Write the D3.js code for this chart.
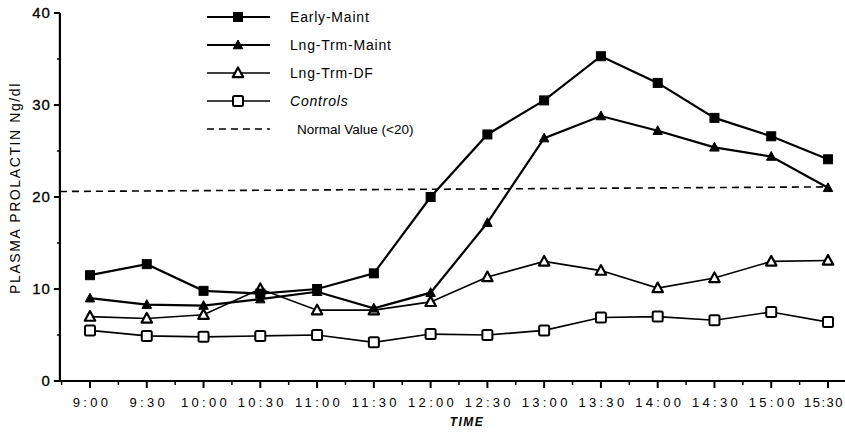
<!DOCTYPE html>
<html>
<head>
<meta charset="utf-8">
<script src="https://cdn.jsdelivr.net/npm/d3@7"></script>
<style>
  body { margin: 0; background: #fff; }
  svg { display: block; font-family: "Liberation Sans", Arial, sans-serif; }
</style>
</head>
<body>
<div id="chart"></div>
<script>
// Values
const times = ['9:00', '9:30', '10:00', '10:30', '11:00', '11:30', '12:00',
  '12:30', '13:00', '13:30', '14:00', '14:30', '15:00', '15:30'];
const earlyMaint = [11.5, 12.7, 9.8, 9.5, 10.0, 11.7, 20.0, 26.8, 30.5, 35.3, 32.4, 28.6, 26.6, 24.1];
const lngTrmMaint = [9.0, 8.3, 8.2, 8.9, 9.7, 7.9, 9.6, 17.2, 26.4, 28.8, 27.2, 25.4, 24.4, 21.0];
const lngTrmDF = [7.0, 6.8, 7.2, 10.0, 7.7, 7.7, 8.6, 11.3, 13.0, 12.0, 10.1, 11.2, 13.0, 13.1];
const controls = [5.5, 4.9, 4.8, 4.9, 5.0, 4.2, 5.1, 5.0, 5.5, 6.9, 7.0, 6.6, 7.5, 6.4];
const normalValue = [20.6, 21.1]; // dashed line, left end / right end
const yTicks = [0, 10, 20, 30, 40];

const width = 845, height = 438;

const svg = d3.select('#chart').append('svg')
  .attr('width', width)
  .attr('height', height);

const x = d3.scaleLinear().domain([0, times.length - 1]).range([90, 828]);
const y = d3.scaleLinear().domain([0, 40]).range([381, 13]);
const xStart = x(-0.53);

// y axis
const yAxis = svg.append('g').attr('transform', `translate(${xStart},0)`);
yAxis.append('line')
  .attr('y1', y(40)).attr('y2', y(0))
  .attr('stroke', '#000').attr('stroke-width', 2.2);
yAxis.selectAll('.major').data(yTicks).enter().append('line')
  .attr('x1', -6).attr('x2', 0)
  .attr('y1', d => y(d)).attr('y2', d => y(d))
  .attr('stroke', '#000').attr('stroke-width', 2);
yAxis.selectAll('.minor').data(d3.range(5, 40, 10)).enter().append('line')
  .attr('x1', -3).attr('x2', 0)
  .attr('y1', d => y(d)).attr('y2', d => y(d))
  .attr('stroke', '#000').attr('stroke-width', 1.5);
yAxis.selectAll('text').data(yTicks).enter().append('text')
  .attr('x', -9)
  .attr('y', d => y(d) + 5)
  .attr('text-anchor', 'end')
  .style('font-size', '15px')
  .style('letter-spacing', '1px')
  .style('stroke', '#000').style('stroke-width', 0.3)
  .text(d => d);

// x axis
const xAxis = svg.append('g').attr('transform', `translate(0,${y(0)})`);
xAxis.append('line')
  .attr('x1', xStart - 6).attr('x2', width)
  .attr('stroke', '#000').attr('stroke-width', 2.2);
xAxis.selectAll('.major').data(times).enter().append('line')
  .attr('x1', (d, i) => x(i)).attr('x2', (d, i) => x(i))
  .attr('y1', 0).attr('y2', 7)
  .attr('stroke', '#000').attr('stroke-width', 2);
xAxis.selectAll('.minor').data(d3.range(0, times.length)).enter().append('line')
  .attr('x1', d => x(d - 0.5)).attr('x2', d => x(d - 0.5))
  .attr('y1', 0).attr('y2', 4)
  .attr('stroke', '#000').attr('stroke-width', 1.5);
xAxis.selectAll('text').data(times).enter().append('text')
  .attr('x', (d, i) => i === times.length - 1 ? width - 1 : x(i) + 2)
  .attr('y', 26)
  .attr('text-anchor', (d, i) => i === times.length - 1 ? 'end' : 'middle')
  .style('font-size', '13px')
  .style('letter-spacing', (d, i) => i === times.length - 1 ? '1.5px' : '3.3px')
  .text(d => d);

// axis titles
svg.append('text')
  .attr('x', 467).attr('y', 426)
  .attr('text-anchor', 'middle')
  .style('font-size', '12px')
  .style('font-weight', 'bold')
  .style('font-style', 'italic')
  .style('letter-spacing', '1.5px')
  .text('TIME');

svg.append('text')
  .attr('transform', 'translate(20,188) rotate(-90)')
  .attr('text-anchor', 'middle')
  .style('font-size', '14px')
  .style('letter-spacing', '1.6px')
  .text('PLASMA PROLACTIN Ng/dl');

// normal value line
svg.append('line')
  .attr('x1', xStart).attr('x2', x(times.length - 1))
  .attr('y1', y(normalValue[0])).attr('y2', y(normalValue[1]))
  .attr('stroke', '#000').attr('stroke-width', 1.6)
  .attr('stroke-dasharray', '7,5');

const series = [
  { name: 'Early-Maint', values: earlyMaint, marker: 'square', filled: true, lw: 2.2 },
  { name: 'Lng-Trm-Maint', values: lngTrmMaint, marker: 'triangle', filled: true, lw: 2.2 },
  { name: 'Lng-Trm-DF', values: lngTrmDF, marker: 'triangle', filled: false, lw: 1.6 },
  { name: 'Controls', values: controls, marker: 'square', filled: false, lw: 1.6 }
];

const line = d3.line().x((d, i) => x(i)).y(d => y(d));

function drawMarker(g, s, cx, cy) {
  if (s.marker === 'square') {
    const size = s.filled ? 9 : 10;
    g.append('rect')
      .attr('x', cx - size / 2).attr('y', cy - size / 2)
      .attr('width', size).attr('height', size)
      .attr('rx', s.filled ? 0 : 1.5)
      .attr('fill', s.filled ? '#000' : '#fff')
      .attr('stroke', '#000').attr('stroke-width', s.filled ? 1 : 2);
  } else {
    const r = s.filled ? 5 : 5.5;
    g.append('path')
      .attr('d', `M${cx},${cy - r}L${cx + r * 0.95},${cy + r * 0.75}L${cx - r * 0.95},${cy + r * 0.75}Z`)
      .attr('fill', s.filled ? '#000' : '#fff')
      .attr('stroke', '#000').attr('stroke-width', s.filled ? 1 : 2.2)
      .attr('stroke-linejoin', 'round');
  }
}

// lines first, then markers, drawn back to front
series.slice().reverse().forEach(s => {
  svg.append('path')
    .datum(s.values)
    .attr('d', line)
    .attr('fill', 'none')
    .attr('stroke', '#000')
    .attr('stroke-width', s.lw);
});
series.slice().reverse().forEach(s => {
  const g = svg.append('g');
  s.values.forEach((v, i) => drawMarker(g, s, x(i), y(v)));
});

// legend
const legend = svg.append('g');
const rowY = i => 17 + i * 28;
series.forEach((s, i) => {
  legend.append('line')
    .attr('x1', 207).attr('x2', 270)
    .attr('y1', rowY(i)).attr('y2', rowY(i))
    .attr('stroke', '#000').attr('stroke-width', s.lw);
  drawMarker(legend, s, 238, rowY(i));
  legend.append('text')
    .attr('x', 290).attr('y', rowY(i) + 5)
    .style('font-size', '14px')
    .style('letter-spacing', '0.8px')
    .style('font-style', s.name === 'Controls' ? 'italic' : 'normal')
    .text(s.name);
});
legend.append('line')
  .attr('x1', 207).attr('x2', 270)
  .attr('y1', rowY(4)).attr('y2', rowY(4))
  .attr('stroke', '#000').attr('stroke-width', 1.6)
  .attr('stroke-dasharray', '7,5');
legend.append('text')
  .attr('x', 297).attr('y', rowY(4) + 5)
  .style('font-size', '13.5px')
  .text('Normal Value (<20)');
</script>
</body>
</html>
